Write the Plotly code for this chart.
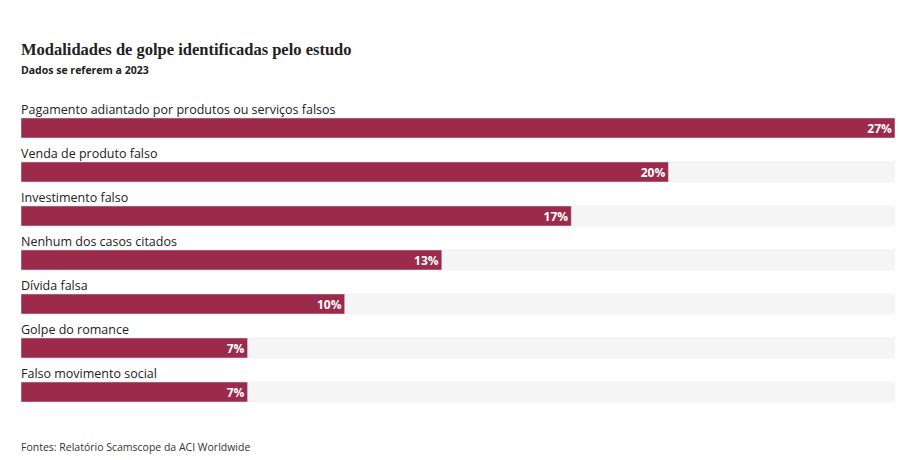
import plotly.graph_objects as go

categories = ["Pagamento adiantado por produtos ou serviços falsos", "Venda de produto falso",
              "Investimento falso", "Nenhum dos casos citados", "Dívida falsa",
              "Golpe do romance", "Falso movimento social"]
values = [27, 20, 17, 13, 10, 7, 7]
xmax = 27
ys = list(range(len(categories)))

fig = go.Figure()
fig.add_bar(y=ys, x=[xmax]*len(ys), orientation="h", marker_color="#f5f5f5", width=0.455,
            hoverinfo="skip", showlegend=False)
fig.add_bar(y=ys, x=values, orientation="h", marker_color="#9c2b4b", width=0.455,
            text=[f"<b>{v}%</b>" for v in values], textposition="inside", insidetextanchor="end",
            textangle=0, constraintext="none",
            insidetextfont=dict(color="white", size=12, family="Open Sans"), showlegend=False)
fig.update_layout(barmode="overlay", width=912, height=460, plot_bgcolor="white", paper_bgcolor="white",
                  margin=dict(l=13, r=25, t=87, b=54, autoexpand=False),
                  xaxis=dict(range=[0, xmax], visible=False, fixedrange=True),
                  yaxis=dict(range=[6.5, -0.75], visible=False),
                  font=dict(family="Open Sans", color="#222"))
for y, c in zip(ys, categories):
    fig.add_annotation(x=0, y=y - 0.43, xref="x", yref="y", text=c, showarrow=False,
                       xanchor="left", yanchor="middle", xshift=-2, font=dict(size=12.5, color="#222"))
fig.add_annotation(x=0, y=1, xref="paper", yref="paper", text="<b>Modalidades de golpe identificadas pelo estudo</b>",
                   yshift=46, xshift=-2, showarrow=False, xanchor="left", yanchor="middle",
                   font=dict(size=16.5, family="Liberation Serif"))
fig.add_annotation(x=0, y=1, xref="paper", yref="paper", text="<b>Dados se referem a 2023</b>", yshift=25, xshift=-2,
                   showarrow=False, xanchor="left", yanchor="middle", font=dict(size=10.5))
fig.add_annotation(x=0, y=0, xref="paper", yref="paper", text="Fontes: Relatório Scamscope da ACI Worldwide", yshift=-33,
                   xshift=-2, showarrow=False, xanchor="left", yanchor="middle", font=dict(size=10.5, color="#333"))
fig.write_html("out.html")
